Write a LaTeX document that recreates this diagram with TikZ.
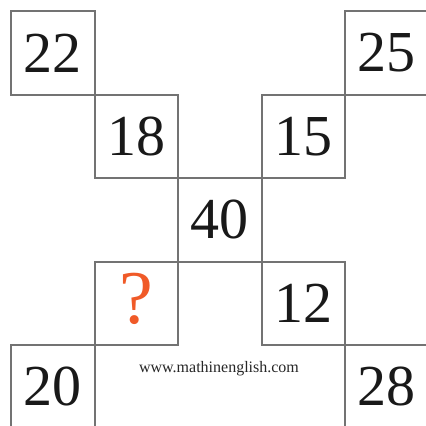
\documentclass[tikz,border=0pt]{standalone}
\usepackage{fontspec}
\setmainfont{Liberation Serif}
\definecolor{boxgray}{RGB}{115,115,115}
\definecolor{qorange}{RGB}{240,90,40}
\begin{document}
\begin{tikzpicture}[x=1pt,y=-1pt,
  cell/.style={draw=boxgray,line width=2.2pt,minimum size=83.5pt,inner sep=0pt,anchor=north west,font=\fontsize{58}{58}\selectfont,text=black!90}]
\useasboundingbox (0,0) rectangle (426,426);
\clip (0,0) rectangle (426,426);
\node[cell] (a) at (10,10) {22};
\node[cell] (b) at (344,10) {25};
\node[cell] (c) at (93.5,93.5) {18};
\node[cell] (d) at (260.5,93.5) {15};
\node[cell] (e) at (177,177) {40};
\node[cell] (f) at (93.5,260.5) {};
\node[text=qorange,font=\fontsize{76}{76}\selectfont,inner sep=0pt] (q) at ([yshift=4pt]f.center) {?};
\node[cell] (g) at (260.5,260.5) {12};
\node[cell] (h) at (10,344) {20};
\node[cell] (i) at (344,344) {28};
\node[font=\fontsize{16}{16}\selectfont,text=black!85] (w) at (219,369) {www.mathinenglish.com};
\end{tikzpicture}
\end{document}
